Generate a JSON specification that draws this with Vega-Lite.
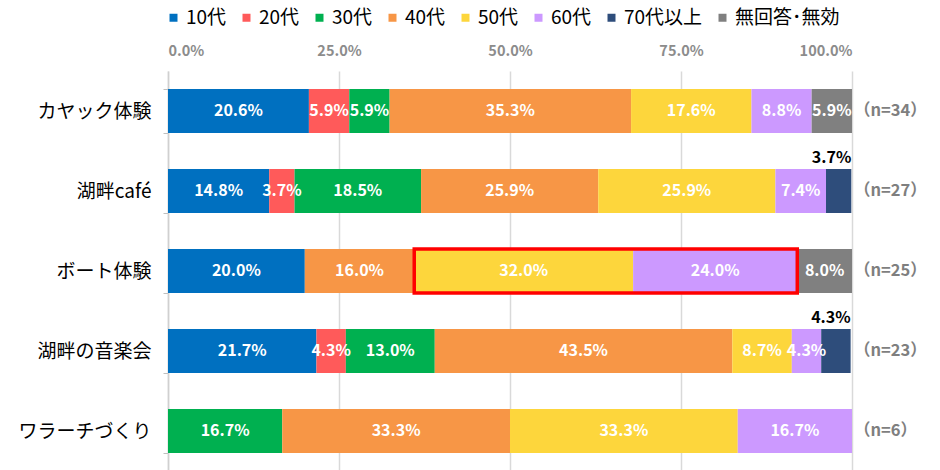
{
  "$schema": "https://vega.github.io/schema/vega-lite/v6.json",
  "width": 684,
  "height": 400,
  "autosize": {"type": "none"},
  "padding": {"left": 168, "top": 71, "right": 88, "bottom": 0},
  "background": "white",
  "config": {"font": "Noto Sans CJK JP", "view": {"stroke": null}},
  "datasets": {
    "main": [
      {"activity": "カヤック体験", "age": "10代", "value": 0.206},
      {"activity": "カヤック体験", "age": "20代", "value": 0.059},
      {"activity": "カヤック体験", "age": "30代", "value": 0.059},
      {"activity": "カヤック体験", "age": "40代", "value": 0.353},
      {"activity": "カヤック体験", "age": "50代", "value": 0.176},
      {"activity": "カヤック体験", "age": "60代", "value": 0.088},
      {"activity": "カヤック体験", "age": "無回答･無効", "value": 0.059},
      {"activity": "湖畔café", "age": "10代", "value": 0.148},
      {"activity": "湖畔café", "age": "20代", "value": 0.037},
      {"activity": "湖畔café", "age": "30代", "value": 0.185},
      {"activity": "湖畔café", "age": "40代", "value": 0.259},
      {"activity": "湖畔café", "age": "50代", "value": 0.259},
      {"activity": "湖畔café", "age": "60代", "value": 0.074},
      {"activity": "湖畔café", "age": "70代以上", "value": 0.037},
      {"activity": "ボート体験", "age": "10代", "value": 0.200},
      {"activity": "ボート体験", "age": "40代", "value": 0.160},
      {"activity": "ボート体験", "age": "50代", "value": 0.320},
      {"activity": "ボート体験", "age": "60代", "value": 0.240},
      {"activity": "ボート体験", "age": "無回答･無効", "value": 0.080},
      {"activity": "湖畔の音楽会", "age": "10代", "value": 0.217},
      {"activity": "湖畔の音楽会", "age": "20代", "value": 0.043},
      {"activity": "湖畔の音楽会", "age": "30代", "value": 0.130},
      {"activity": "湖畔の音楽会", "age": "40代", "value": 0.435},
      {"activity": "湖畔の音楽会", "age": "50代", "value": 0.087},
      {"activity": "湖畔の音楽会", "age": "60代", "value": 0.043},
      {"activity": "湖畔の音楽会", "age": "70代以上", "value": 0.043},
      {"activity": "ワラーチづくり", "age": "30代", "value": 0.167},
      {"activity": "ワラーチづくり", "age": "40代", "value": 0.333},
      {"activity": "ワラーチづくり", "age": "50代", "value": 0.333},
      {"activity": "ワラーチづくり", "age": "60代", "value": 0.167}
    ],
    "nlabels": [
      {"activity": "カヤック体験", "n": "（n=34）"},
      {"activity": "湖畔café", "n": "（n=27）"},
      {"activity": "ボート体験", "n": "（n=25）"},
      {"activity": "湖畔の音楽会", "n": "（n=23）"},
      {"activity": "ワラーチづくり", "n": "（n=6）"}
    ],
    "highlight": [
      {"activity": "ボート体験", "start": 0.36, "end": 0.92}
    ]
  },
  "encoding": {
    "y": {
      "field": "activity",
      "type": "nominal",
      "sort": ["カヤック体験", "湖畔café", "ボート体験", "湖畔の音楽会", "ワラーチづくり"],
      "scale": {"paddingInner": 0.45, "paddingOuter": 0.225},
      "axis": {
        "title": null,
        "labelFontSize": 19,
        "labelColor": "#000000",
        "labelPadding": 12,
        "tickBand": "extent",
        "tickColor": "#bfbfbf",
        "tickSize": 5,
        "domainColor": "#d0d0d0",
        "domainWidth": 1.5,
        "grid": false
      }
    }
  },
  "layer": [
    {
      "data": {"name": "main"},
      "transform": [
        {"stack": "value", "groupby": ["activity"], "sort": [{"field": "age", "order": "ascending"}], "as": ["x0", "x1"]}
      ],
      "mark": {"type": "bar"},
      "encoding": {
        "x": {
          "field": "x0",
          "type": "quantitative",
          "scale": {"domain": [0, 1], "nice": false},
          "axis": {
            "orient": "top",
            "format": ".1%",
            "values": [0, 0.25, 0.5, 0.75, 1],
            "labelColor": "#8c8c8c",
            "labelFontSize": 14.5,
            "labelFontWeight": "bold",
            "labelPadding": 13,
            "domain": false,
            "ticks": false,
            "gridColor": "#d9d9d9",
            "gridWidth": 1.5,
            "title": null
          }
        },
        "x2": {"field": "x1"},
        "color": {
          "field": "age",
          "type": "nominal",
          "scale": {
            "domain": ["10代", "20代", "30代", "40代", "50代", "60代", "70代以上", "無回答･無効"],
            "range": ["#0070C0", "#FF5A5A", "#00B050", "#F79646", "#FDD63C", "#CC99FF", "#2E4D7B", "#808080"]
          },
          "legend": {
            "orient": "none",
            "legendX": -4,
            "legendY": -63,
            "direction": "horizontal",
            "title": null,
            "symbolType": "square",
            "symbolSize": 64,
            "symbolStrokeWidth": 0,
            "labelFontSize": 19,
            "labelColor": "#000000",
            "labelOffset": 3,
            "columnPadding": 10,
            "padding": 0
          }
        }
      }
    },
    {
      "data": {"name": "main"},
      "transform": [
        {"stack": "value", "groupby": ["activity"], "sort": [{"field": "age", "order": "ascending"}], "as": ["x0", "x1"]},
        {"calculate": "(datum.x0 + datum.x1) / 2", "as": "mid"},
        {"filter": "datum.age !== '70代以上'"}
      ],
      "mark": {"type": "text", "color": "white", "fontSize": 16, "fontWeight": "bold", "baseline": "middle"},
      "encoding": {
        "x": {"field": "mid", "type": "quantitative"},
        "text": {"field": "value", "type": "quantitative", "format": ".1%"}
      }
    },
    {
      "data": {"name": "main"},
      "transform": [
        {"stack": "value", "groupby": ["activity"], "sort": [{"field": "age", "order": "ascending"}], "as": ["x0", "x1"]},
        {"filter": "datum.age === '70代以上'"}
      ],
      "mark": {"type": "text", "color": "#000000", "fontSize": 16, "fontWeight": "bold", "baseline": "middle", "align": "right", "dy": -33},
      "encoding": {
        "x": {"field": "x1", "type": "quantitative"},
        "text": {"field": "value", "type": "quantitative", "format": ".1%"}
      }
    },
    {
      "data": {"name": "highlight"},
      "mark": {"type": "bar", "fill": null, "fillOpacity": 0, "stroke": "#FF0000", "strokeWidth": 3.5},
      "encoding": {
        "x": {"field": "start", "type": "quantitative"},
        "x2": {"field": "end"}
      }
    },
    {
      "data": {"name": "nlabels"},
      "mark": {"type": "text", "color": "#7f7f7f", "fontSize": 16.5, "fontWeight": "bold", "align": "left", "baseline": "middle", "dx": 2},
      "encoding": {
        "x": {"datum": 1, "type": "quantitative"},
        "text": {"field": "n", "type": "nominal"}
      }
    }
  ]
}
